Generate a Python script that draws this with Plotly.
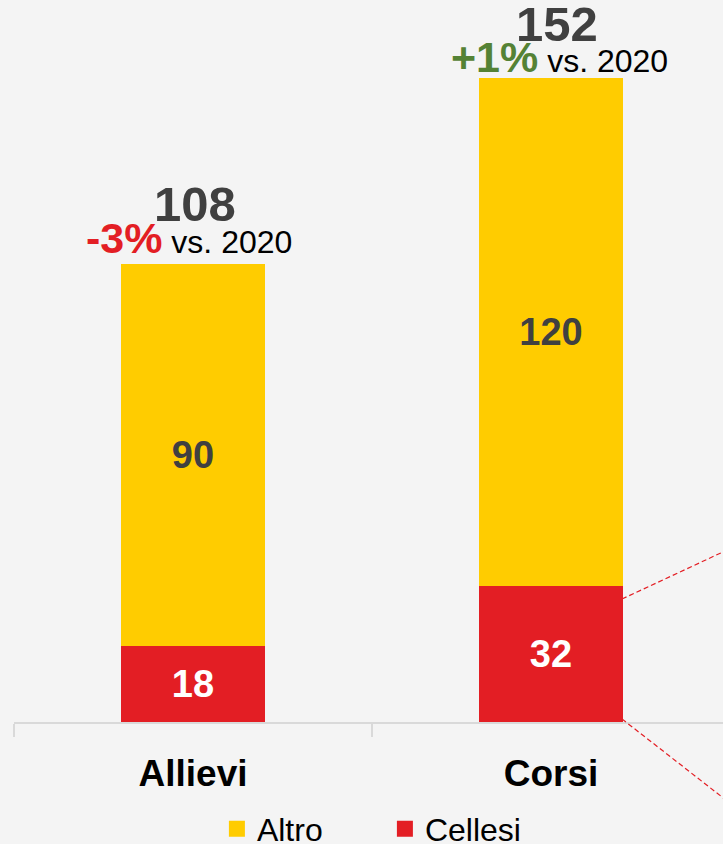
import plotly.graph_objects as go

categories = ["Allievi", "Corsi"]
cellesi = [18, 32]
altro = [90, 120]
pct_change = ["-3%", "+1%"]
pct_colors = ["#E31E24", "#548235"]
totals = [a + c for a, c in zip(altro, cellesi)]

YELLOW = "#FFCC00"
RED = "#E31E24"
FONT = "Liberation Sans, Arial, sans-serif"

# label offsets (pixels) per category: (total dx, total dy, pct dx, pct dy)
label_offsets = {"Allievi": (2, 60, -4, 26), "Corsi": (6, 54, 8, 21)}

fig = go.Figure()
fig.add_trace(go.Bar(
    x=categories, y=cellesi, name="Cellesi", marker=dict(color=RED, line=dict(width=0)),
    text=cellesi, texttemplate="<b>%{text}</b>", textposition="inside",
    insidetextanchor="middle", textfont=dict(color="white", size=38, family=FONT),
    showlegend=False,
))
fig.add_trace(go.Bar(
    x=categories, y=altro, name="Altro", marker=dict(color=YELLOW, line=dict(width=0)),
    text=altro, texttemplate="<b>%{text}</b>", textposition="inside",
    insidetextanchor="middle", textfont=dict(color="#404040", size=38, family=FONT),
    showlegend=False,
))
# legend entries
fig.add_trace(go.Scatter(x=[None], y=[None], mode="markers", name="Altro",
                         marker=dict(symbol="square", size=16, color=YELLOW)))
fig.add_trace(go.Scatter(x=[None], y=[None], mode="markers", name="Cellesi",
                         marker=dict(symbol="square", size=16, color=RED)))

for cat, tot, pc, col in zip(categories, totals, pct_change, pct_colors):
    tdx, tdy, pdx, pdy = label_offsets[cat]
    fig.add_annotation(x=cat, y=tot, text=f"<b>{tot}</b>", showarrow=False,
                       yanchor="middle", yshift=tdy, xshift=tdx,
                       font=dict(size=49, color="#404040", family=FONT))
    fig.add_annotation(x=cat, y=tot, text=f"<b><span style='color:{col};font-size:43px'>{pc}</span></b> vs. 2020",
                       showarrow=False, yanchor="middle", yshift=pdy, xshift=pdx,
                       font=dict(size=32, color="black", family=FONT))

def px2paper(px, py):
    return (px - 14) / 709, (722 - py) / 722

for (x0, y0), (x1, y1) in [((622, 599), (740, 544)), ((622, 719), (740, 811))]:
    a0, b0 = px2paper(x0, y0)
    a1, b1 = px2paper(x1, y1)
    fig.add_shape(type="line", xref="paper", yref="paper", x0=a0, y0=b0, x1=a1, y1=b1,
                  line=dict(color=RED, width=1.2, dash="5px,3px"))

fig.update_layout(
    width=723, height=844, autosize=False,
    margin=dict(l=14, r=0, t=0, b=122, autoexpand=False),
    paper_bgcolor="#F4F4F4", plot_bgcolor="#F4F4F4",
    barmode="stack", bargap=0.6,
    font=dict(family=FONT, color="black"),
    legend=dict(orientation="h", xref="container", yref="paper",
                x=0.3, xanchor="left", y=(722 - 829) / 722, yanchor="middle",
                font=dict(size=32, color="black"), entrywidth=123,
                bgcolor="rgba(0,0,0,0)", traceorder="normal"),
)
fig.update_xaxes(type="category", range=[-0.5, 1.4804], showline=True, linecolor="#D9D9D9",
                 linewidth=2, ticks="outside", tickson="boundaries", ticklen=13,
                 tickcolor="#D9D9D9", tickwidth=2, showgrid=False, zeroline=False,
                 ticklabelstandoff=18, automargin=False,
                 tickfont=dict(size=37, color="black", family=FONT, weight="bold"))
fig.update_yaxes(range=[0, 170.4], visible=False, showgrid=False, automargin=False)

fig.write_html("out.html", post_script="document.body.style.margin='0';",
               config={"displayModeBar": False})
